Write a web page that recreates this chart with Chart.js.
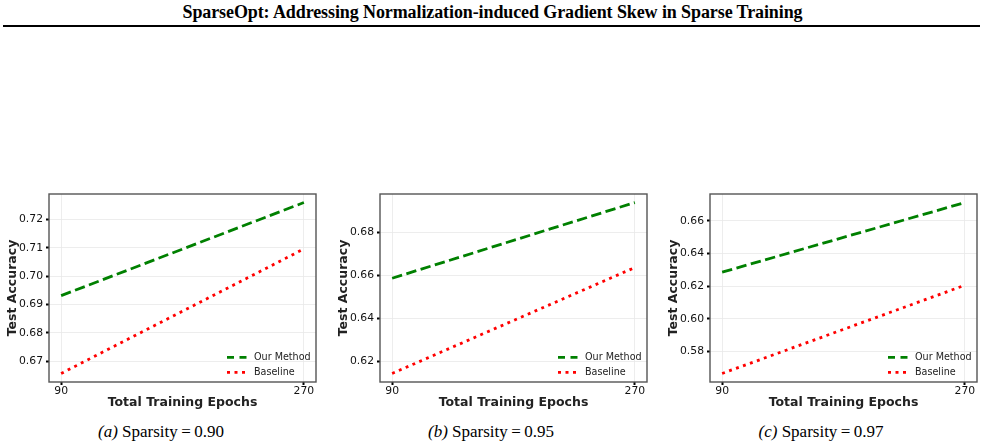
<!DOCTYPE html>
<html>
<head>
<meta charset="utf-8">
<script src="https://cdn.jsdelivr.net/npm/chart.js@4.4.0/dist/chart.umd.min.js"></script>
<style>
html,body{margin:0;padding:0;background:#fff;}
body{width:985px;height:447px;overflow:hidden;position:relative;}
#hdr{position:absolute;left:0;top:2px;width:985px;text-align:center;font:bold 18px "Liberation Serif","Times New Roman",serif;color:#000;white-space:nowrap;letter-spacing:-0.1px;}
#rule{position:absolute;left:3px;top:25px;width:977px;height:0;border-top:2px solid #000;}
.cap{position:absolute;top:422px;width:330px;text-align:center;font:17px "Liberation Serif","Times New Roman",serif;color:#000;white-space:nowrap;}
.box{position:absolute;top:180px;width:330px;height:235px;}
</style>
</head>
<body>
<div id="hdr">SparseOpt: Addressing Normalization-induced Gradient Skew in Sparse Training</div>
<div id="rule"></div>
<div class="box" style="left:0px"><canvas id="cA" width="330" height="235"></canvas></div>
<div class="box" style="left:331px"><canvas id="cB" width="330" height="235"></canvas></div>
<div class="box" style="left:661px"><canvas id="cC" width="330" height="235"></canvas></div>
<div class="cap" style="left:-4px"><i>(a)</i> Sparsity&#8201;=&#8201;0.90</div>
<div class="cap" style="left:326px"><i>(b)</i> Sparsity&#8201;=&#8201;0.95</div>
<div class="cap" style="left:656px"><i>(c)</i> Sparsity&#8201;=&#8201;0.97</div>
<script>
// ---- data ----
const epochs = [90, 270];
const xTicks = [90, 270];
const seriesNames = ['Our Method', 'Baseline'];
const ourA = [0.6931, 0.7260];
const baseA = [0.6656, 0.7096];
const ourB = [0.6587, 0.6940];
const baseB = [0.6143, 0.6637];
const ourC = [0.6286, 0.6713];
const baseC = [0.5665, 0.6206];
const yTicksA = [0.67, 0.68, 0.69, 0.70, 0.71, 0.72];
const yTicksB = [0.62, 0.64, 0.66, 0.68];
const yTicksC = [0.58, 0.60, 0.62, 0.64, 0.66];
const xLabel = 'Total Training Epochs';
const yLabel = 'Test Accuracy';

// ---- styling ----
const FONT = '"DejaVu Sans", Verdana, sans-serif';
const lineStyles = [
  {color: '#008000', dash: [10.4, 4.5], legendDash: [7, 5.5]},
  {color: '#ff0000', dash: [2.9, 4.5], legendDash: [3, 4.5]}
];

const framePlugin = {
  id: 'frame',
  afterDatasetsDraw(chart) {
    const {ctx, chartArea: a} = chart;
    ctx.save();
    ctx.strokeStyle = '#555';
    ctx.lineWidth = 1.4;
    ctx.strokeRect(a.left, a.top, a.right - a.left, a.bottom - a.top);
    ctx.restore();
  }
};

const legendPlugin = {
  id: 'innerLegend',
  afterDraw(chart) {
    const {ctx, chartArea: a} = chart;
    const rows = [a.bottom - 24.7, a.bottom - 9.7];
    ctx.save();
    chart.data.datasets.forEach((ds, i) => {
      const st = lineStyles[i];
      const y = rows[i];
      ctx.beginPath();
      ctx.strokeStyle = st.color;
      ctx.lineWidth = 2.8;
      ctx.setLineDash(st.legendDash);
      ctx.moveTo(a.right - 89, y);
      ctx.lineTo(a.right - 69.5, y);
      ctx.stroke();
      ctx.setLineDash([]);
      ctx.fillStyle = '#222';
      ctx.font = '9.6px ' + FONT;
      ctx.textBaseline = 'middle';
      ctx.textAlign = 'left';
      ctx.fillText(ds.label, a.right - 62, y);
    });
    ctx.restore();
  }
};

function makeChart(id, our, base, yTicks) {
  const all = our.concat(base);
  const lo = Math.min(...all), hi = Math.max(...all);
  const span = hi - lo;
  const xspan = epochs[1] - epochs[0];
  const seriesData = [our, base];
  return new Chart(document.getElementById(id), {
    type: 'line',
    data: {
      datasets: seriesData.map((vals, i) => ({
        label: seriesNames[i],
        data: epochs.map((e, k) => ({x: e, y: vals[k]})),
        borderColor: lineStyles[i].color,
        backgroundColor: lineStyles[i].color,
        borderDash: lineStyles[i].dash,
        borderWidth: 2.8,
        pointRadius: 0,
        fill: false,
        tension: 0
      }))
    },
    options: {
      responsive: false,
      animation: false,
      devicePixelRatio: 1,
      layout: {padding: {left: 0, right: 14, top: 14, bottom: 0}},
      plugins: {legend: {display: false}, tooltip: {enabled: false}},
      scales: {
        x: {
          type: 'linear',
          min: epochs[0] - 0.05 * xspan,
          max: epochs[1] + 0.05 * xspan,
          afterBuildTicks: s => { s.ticks = xTicks.map(v => ({value: v})); },
          afterFit: s => { s.height = 33; },
          ticks: {
            color: '#111', font: {family: FONT, size: 10.8}, padding: 0,
            maxRotation: 0, autoSkip: false,
            callback: v => String(v)
          },
          grid: {color: '#e8e8e8', lineWidth: 0.8, tickColor: '#000', tickWidth: 2, tickLength: 3},
          border: {display: false},
          title: {display: true, text: xLabel, color: '#222',
                  font: {family: FONT, size: 12.5, weight: 'bold'}, padding: {top: 0, bottom: 5}}
        },
        y: {
          type: 'linear',
          min: lo - 0.05 * span,
          max: hi + 0.05 * span,
          afterBuildTicks: s => { s.ticks = yTicks.map(v => ({value: v})); },
          afterFit: s => { s.width = 49; },
          ticks: {
            color: '#111', font: {family: FONT, size: 10.8}, padding: 3,
            autoSkip: false,
            callback: v => Number(v).toFixed(2)
          },
          grid: {color: '#e8e8e8', lineWidth: 0.8, tickColor: '#000', tickWidth: 2, tickLength: 3},
          border: {display: false},
          title: {display: true, text: yLabel, color: '#222',
                  font: {family: FONT, size: 12.5, weight: 'bold'}, padding: {top: 5.5, bottom: 0}}
        }
      }
    },
    plugins: [framePlugin, legendPlugin]
  });
}

makeChart('cA', ourA, baseA, yTicksA);
makeChart('cB', ourB, baseB, yTicksB);
makeChart('cC', ourC, baseC, yTicksC);
</script>
</body>
</html>
